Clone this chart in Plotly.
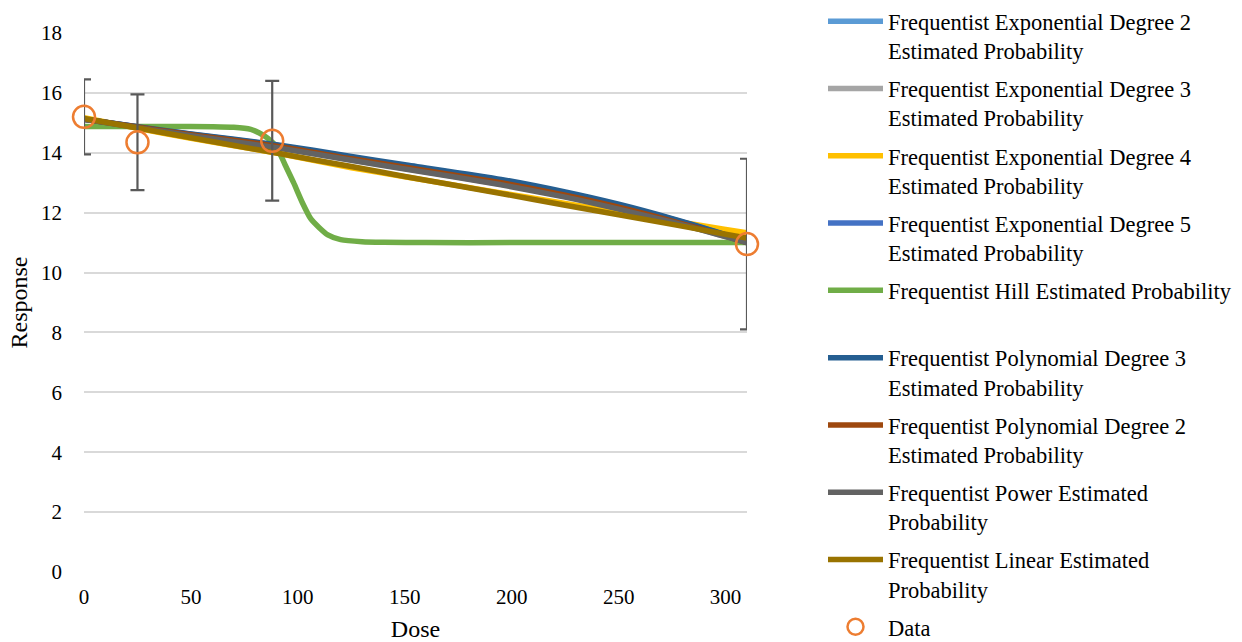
import plotly.graph_objects as go

# Observed dose-response data with error bars
data_dose = [0, 25, 88, 310]
data_resp = [15.2, 14.35, 14.4, 10.95]
data_err = [1.25, 1.6, 2.0, 2.85]

# Model fit curves, evaluated on a common dose grid
fit_dose = [0, 25, 50, 90, 125, 150, 195, 225, 250, 275, 300, 310]
exp2_fit = [15.12, 14.86, 14.61, 14.22, 13.80, 13.52, 13.02, 12.60, 12.20, 11.75, 11.24, 11.03]
exp3_fit = [15.12, 14.85, 14.58, 14.18, 13.76, 13.47, 12.95, 12.54, 12.14, 11.70, 11.20, 11.00]
exp4_fit = [15.17, 14.82, 14.48, 13.99, 13.50, 13.20, 12.66, 12.31, 12.02, 11.73, 11.44, 11.33]
exp5_fit = [15.12, 14.87, 14.62, 14.25, 13.85, 13.57, 13.08, 12.66, 12.25, 11.78, 11.25, 11.00]
poly3_fit = [15.12, 14.87, 14.63, 14.27, 13.88, 13.60, 13.11, 12.69, 12.28, 11.80, 11.26, 11.00]
poly2_fit = [15.12, 14.86, 14.60, 14.22, 13.80, 13.52, 13.00, 12.58, 12.18, 11.72, 11.22, 11.00]
power_fit = [15.12, 14.84, 14.57, 14.17, 13.75, 13.46, 12.93, 12.52, 12.12, 11.68, 11.20, 11.00]
linear_fit = [15.15, 14.83, 14.50, 13.99, 13.54, 13.21, 12.64, 12.25, 11.93, 11.61, 11.28, 11.15]

# Hill fit needs a denser grid around its steep drop
hill_dose = [0, 20, 40, 60, 70, 78, 82, 86, 90, 94, 98, 102, 106, 110, 114, 120, 130, 140, 160, 200, 250, 310]
hill_fit = [14.88, 14.88, 14.88, 14.87, 14.85, 14.78, 14.66, 14.48, 14.20, 13.60, 13.00, 12.35,
            11.80, 11.50, 11.26, 11.10, 11.03, 11.01, 11.00, 11.00, 11.00, 11.00]

series = [
    ("Frequentist Exponential Degree 2<br>Estimated Probability", fit_dose, exp2_fit, "#5B9BD5"),
    ("Frequentist Exponential Degree 3<br>Estimated Probability", fit_dose, exp3_fit, "#A5A5A5"),
    ("Frequentist Exponential Degree 4<br>Estimated Probability", fit_dose, exp4_fit, "#FFC000"),
    ("Frequentist Exponential Degree 5<br>Estimated Probability", fit_dose, exp5_fit, "#4472C4"),
    ("Frequentist Hill Estimated Probability<br> ", hill_dose, hill_fit, "#70AD47"),
    ("Frequentist Polynomial Degree 3<br>Estimated Probability", fit_dose, poly3_fit, "#255E91"),
    ("Frequentist Polynomial Degree 2<br>Estimated Probability", fit_dose, poly2_fit, "#9E480E"),
    ("Frequentist Power Estimated<br>Probability", fit_dose, power_fit, "#636363"),
    ("Frequentist Linear Estimated<br>Probability", fit_dose, linear_fit, "#997300"),
]

FONT = "Liberation Serif, Times New Roman, serif"

fig = go.Figure()
for i, (name, xs, ys, color) in enumerate(series):
    fig.add_trace(go.Scatter(
        x=xs, y=ys, name=name, mode="lines", legendgroup=f"fit{i}",
        line=dict(color=color, width=5.5, shape="spline", smoothing=0.6),
    ))

# Error bars (clipped to the plotting area)
fig.add_trace(go.Scatter(
    x=data_dose, y=data_resp, mode="markers", showlegend=False, hoverinfo="skip",
    marker=dict(size=1, opacity=0),
    error_y=dict(type="data", array=data_err, visible=True, color="#595959",
                 thickness=2.2, width=7),
    cliponaxis=True,
))

# Observed data points
fig.add_trace(go.Scatter(
    x=data_dose, y=data_resp, name="Data", mode="markers", legendgroup="data",
    marker=dict(symbol="circle-open", size=22, color="#ED7D31", line=dict(width=2.5)),
    cliponaxis=False,
))

fig.update_layout(
    width=1242, height=642,
    margin=dict(l=84, r=495, t=33, b=70),
    plot_bgcolor="white", paper_bgcolor="white",
    font=dict(family=FONT, size=21, color="#000000"),
    showlegend=True,
    legend=dict(
        xref="container", yref="container",
        x=823 / 1242, xanchor="left", y=1.004, yanchor="top",
        font=dict(family=FONT, size=22.5, color="#000000"),
        valign="top", itemwidth=55, maxheight=700, tracegroupgap=5.8,
        bgcolor="rgba(0,0,0,0)",
    ),
    xaxis=dict(
        range=[0, 310], tickvals=[0, 50, 100, 150, 200, 250, 300],
        showgrid=False, zeroline=False, showline=False, ticks="",
        tickfont=dict(family=FONT, size=21), ticklabelstandoff=10,
        title=dict(text="Dose", font=dict(family=FONT, size=24), standoff=12),
        automargin=False,
    ),
    yaxis=dict(
        range=[0, 18], tickvals=[0, 2, 4, 6, 8, 10, 12, 14, 16, 18],
        showgrid=True, gridcolor="#D9D9D9", gridwidth=2, zeroline=False,
        showline=False, ticks="",
        tickfont=dict(family=FONT, size=21), ticklabelstandoff=21,
        title=dict(text="Response", font=dict(family=FONT, size=24), standoff=6),
        automargin=False,
    ),
)

fig.write_html("out.html")
